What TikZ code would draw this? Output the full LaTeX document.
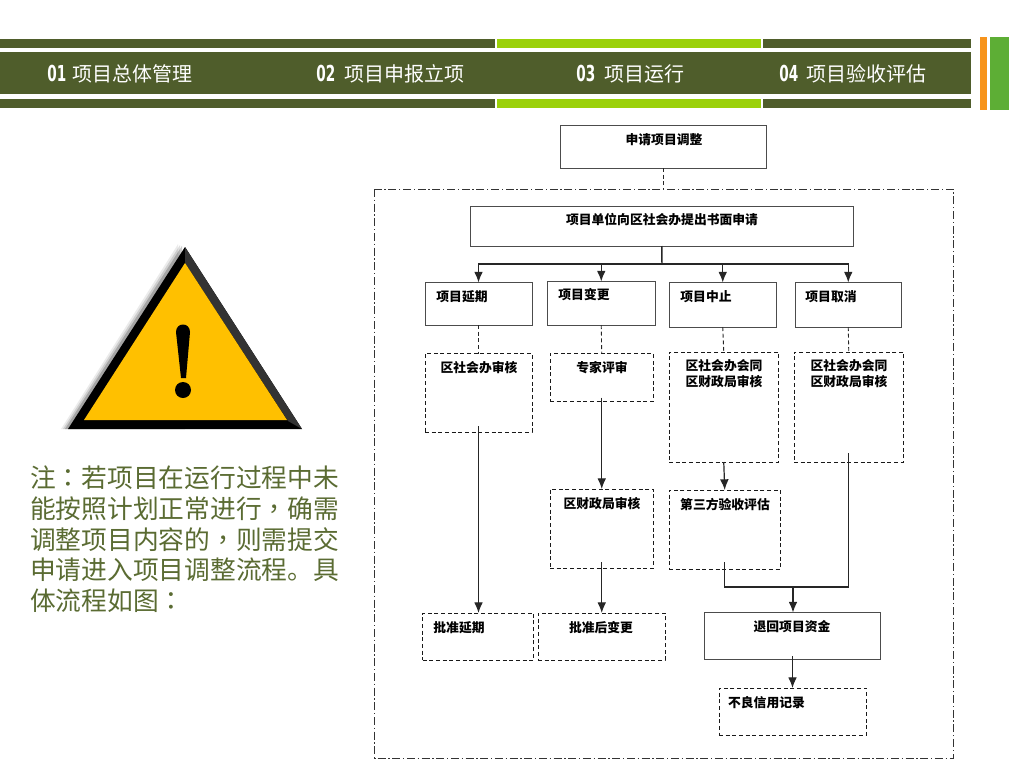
\documentclass[tikz,border=0pt]{standalone}
\usepackage{fontspec}
\setmainfont{Noto Sans CJK SC}
\newfontfamily\numfont[FakeStretch=0.62,UprightFont={* Bold}]{DejaVu Sans}
\newfontfamily\punctfont{Noto Sans CJK TC}
\usepackage{tikz}
\usetikzlibrary{arrows.meta,positioning,calc}
\definecolor{olivebar}{HTML}{4F5D2B}
\definecolor{limebar}{HTML}{9BD10A}
\definecolor{notetext}{HTML}{5A6B32}
\definecolor{orangebar}{HTML}{F7941D}
\definecolor{greenbar}{HTML}{5DAE35}
\definecolor{signfill}{HTML}{FFC000}

\begin{document}
\begin{tikzpicture}[
    x=0.75pt, y=-0.75pt,
    solidbox/.style={draw=black!70, line width=0.6pt},
    dashbox/.style={draw=black!90, line width=0.75pt, dash pattern=on 3pt off 2pt},
    boxtext/.style={font=\bfseries\fontsize{9.6}{11.5}\selectfont, align=center, inner sep=0pt},
    tabtext/.style={font=\fontsize{15}{18}\selectfont, text=white, anchor=west, inner sep=0pt},
    flow/.style={draw=black!85, line width=0.9pt, -{Latex[length=8pt,width=6.5pt]}},
    link/.style={draw=black!85, line width=0.65pt, dash pattern=on 3pt off 2pt}
]
\useasboundingbox (0,0) rectangle (1024,768);
% Header bars
\fill[olivebar] (0,52) rectangle (971,94);
\foreach \y in {39,99} {
    \fill[olivebar] (0,\y) rectangle (495,\y+9);
    \fill[limebar] (497,\y) rectangle (761,\y+9);
    \fill[olivebar] (763,\y) rectangle (971,\y+9);
}
\fill[orangebar] (980,37) rectangle (987,110);
\fill[greenbar] (990,37) rectangle (1009,110);
% Header tabs
\foreach \name/\x/\tx/\num/\txt in {
    tabA/47/72/01/项目总体管理,
    tabB/316/344/02/项目申报立项,
    tabC/576/604/03/项目运行,
    tabD/779/806/04/项目验收评估
} {
    \node[tabtext] (\name-n) at (\x,73) {\numfont\fontsize{16.5}{18}\selectfont\num};
    \node[tabtext] (\name) at (\tx,74) {\txt};
}
% Warning sign
\foreach \d/\op in {7/0.08,5/0.12,3/0.2} {
    \fill[black, opacity=\op] (185-\d,247-\d*0.4) -- (68-\d,429) -- (185,429) -- cycle;
}
\fill[black] (185,247) -- (68,429) -- (302,429) -- cycle;
\fill[black!80] (185,247) -- (302,429) -- (288,421) -- (185,263) -- cycle;
\fill[signfill] (185,263) -- (84,420) -- (287,420) -- cycle;
\fill[black] (176,332) .. controls (176,322) and (190,322) .. (190,332)
    -- (186,378) -- (181,378) -- cycle;
\fill[black] (183,390) circle (8);
% Note
\node[font=\fontsize{19.3}{23}\selectfont, text=notetext, anchor=north west, align=left, inner sep=0pt] (note) at (30,466)
    {注{\punctfont：}若项目在运行过程中未\\能按照计划正常进行{\punctfont，}确需\\调整项目内容的{\punctfont，}则需提交\\申请进入项目调整流程。具\\体流程如图{\punctfont：}};
% Outer frame
\draw[draw=black!80, line width=0.6pt, dash pattern=on 6pt off 2pt on 1pt off 2pt] (374.5,189) rectangle (953,758);
\node[inner sep=0pt, outer sep=0pt, minimum width=433.5pt, minimum height=426.75pt] (frame) at (664,473.5) {};
% Boxes: name/left/top/right/bottom/style/text x/text y/text
\foreach \name/\xa/\ya/\xb/\yb/\kind/\tx/\ty/\txt in {
    apply/560.5/125/766.5/168/solidbox/664/139.5/申请项目调整,
    request/470.5/206.5/853/246/solidbox/662/219.5/项目单位向区社会办提出书面申请,
    delay/425/282.5/532/325/solidbox/462/296.5/项目延期,
    change/547.5/281.5/655/325/solidbox/584/294.5/项目变更,
    suspend/669.5/282.5/776/327/solidbox/706/296.5/项目中止,
    cancel/795/282.5/901.5/327/solidbox/831/296.5/项目取消,
    auditA/425/353.5/532/432/dashbox/479/367.5/区社会办审核,
    expert/550/353.5/653.5/401/dashbox/602/367.5/专家评审,
    auditC/669/352/778.5/462/dashbox/724/373.5/{区社会办会同\\区财政局审核},
    auditD/794/352/903.5/462/dashbox/849/373.5/{区社会办会同\\区财政局审核},
    finance/550/489/653.5/568/dashbox/602/503.5/区财政局审核,
    third/669/490/780.5/569/dashbox/725/504.5/第三方验收评估,
    passA/422.5/613/533.5/660/dashbox/459/627.5/批准延期,
    passB/538/613/665/660/dashbox/601/627.5/批准后变更,
    refund/704.5/612.5/880.5/659/solidbox/792/626.5/退回项目资金,
    record/719/688/866.5/735/dashbox/768/702.5/不良信用记录
} {
    \node[\kind, inner sep=0pt, outer sep=0pt, minimum width={(\xb-\xa)*0.75pt}, minimum height={(\yb-\ya)*0.75pt}] (\name) at ({(\xa+\xb)/2},{(\ya+\yb)/2}) {};
    \node[boxtext] (\name-t) at (\tx,\ty) {\txt};
}
% Connectors
\coordinate (hub) at (662,264);
\coordinate (merge) at (793,587);
\draw[link] (apply.south) -- (apply.south |- frame.north);
\draw[draw=black!85, line width=1.1pt] (request.south) -- (hub);
\foreach \to in {delay,change,suspend,cancel} {
    \draw[flow, line width=1pt] (hub) -| (\to.north);
}
\foreach \from/\to in {delay/auditA,change/expert,suspend/auditC,cancel/auditD} {
    \draw[link] (\from.south) -- (\to.north);
}
\draw[flow] ([yshift=4.5pt]auditA.south) -- (auditA.south |- passA.north);
\draw[flow] ([yshift=2.5pt]expert.south) -- (expert.south |- finance.north);
\draw[flow] ([yshift=4.5pt]finance.south) -- (finance.south |- passB.north);
\draw[flow] (auditC.south) -- (third.north);
\draw[draw=black!85, line width=0.9pt] ([yshift=5pt]third.south) |- (merge);
\draw[draw=black!85, line width=0.9pt] ([yshift=6.5pt]auditD.south) |- (merge);
\draw[flow] (merge) -- (merge |- refund.north);
\draw[flow] ([yshift=2pt]refund.south) -- (refund.south |- record.north);
\end{tikzpicture}
\end{document}
